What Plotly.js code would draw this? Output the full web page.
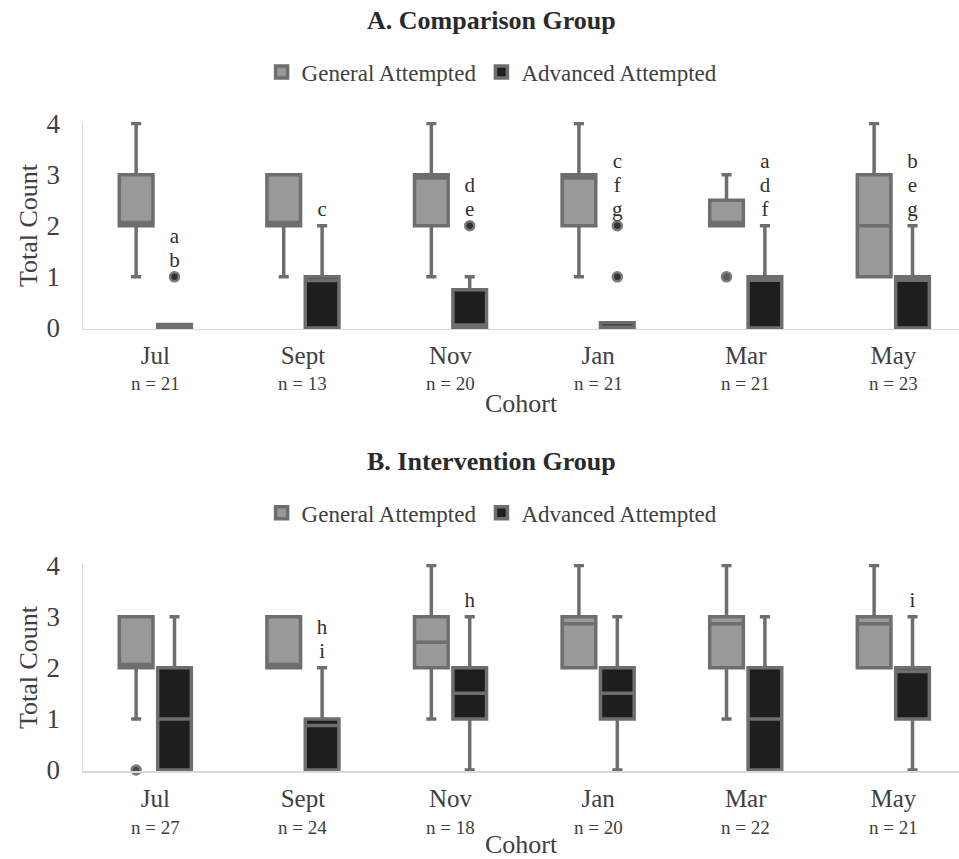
<!DOCTYPE html>
<html>
<head>
<meta charset="utf-8">
<script src="https://cdn.plot.ly/plotly-3.0.1.min.js"></script>
<style>html,body{margin:0;padding:0;background:#fff;}#chart{width:959px;height:859px;}</style>
</head>
<body>
<div id="chart"></div>
<script>
// ---------- DATA ----------
const cohorts = ['Jul', 'Sept', 'Nov', 'Jan', 'Mar', 'May'];
const seriesNames = ['General Attempted', 'Advanced Attempted'];
const yTicks = [0, 1, 2, 3, 4];

// A. Comparison Group
const compN = [21, 13, 20, 21, 21, 23];
const compGenLo  = [1, 1, 1, 1, 2, 1];
const compGenQ1  = [2, 2, 2, 2, 2, 1];
const compGenMed = [2.065, 2.065, 2.935, 2.935, 2.065, 2];
const compGenQ3  = [3, 3, 3, 3, 2.5, 3];
const compGenHi  = [4, 3, 4, 4, 3, 4];
const compAdvLo  = [0, 0, 0, 0, 0, 0];
const compAdvQ1  = [0, 0, 0, 0, 0, 0];
const compAdvMed = [0, 0.93, 0.06, 0, 0.935, 0.935];
const compAdvQ3  = [0.07, 1, 0.75, 0.1, 1, 1];
const compAdvHi  = [0.07, 2, 1, 0.1, 2, 2];
const compGenOut = [[], [], [], [], [1], []];
const compAdvOut = [[1], [], [2], [2, 1], [], []];
const compLetters = [['a', 'b'], ['c'], ['d', 'e'], ['c', 'f', 'g'], ['a', 'd', 'f'], ['b', 'e', 'g']];

// B. Intervention Group
const intN = [27, 24, 18, 20, 22, 21];
const intGenLo  = [1, 2, 1, 2, 1, 2];
const intGenQ1  = [2, 2, 2, 2, 2, 2];
const intGenMed = [2.065, 2.065, 2.5, 2.86, 2.86, 2.86];
const intGenQ3  = [3, 3, 3, 3, 3, 3];
const intGenHi  = [3, 3, 4, 4, 4, 4];
const intAdvLo  = [0, 0, 0, 0, 0, 0];
const intAdvQ1  = [0, 0, 1, 1, 0, 1];
const intAdvMed = [1, 0.87, 1.5, 1.5, 1, 1.925];
const intAdvQ3  = [2, 1, 2, 2, 2, 2];
const intAdvHi  = [3, 2, 3, 3, 3, 3];
const intGenOut = [[0], [], [], [], [], []];
const intAdvOut = [[], [], [], [], [], []];
const intLetters = [[], ['h', 'i'], ['h'], [], [], ['i']];

// ---------- STYLE ----------
const FONT = 'Liberation Serif, Times New Roman, serif';
const TXT = '#404040';
const EDGE = '#6e6e6e';
const GEN_FILL = '#999999';
const ADV_FILL = '#1e1e1e';
const OFF = 0.13;
const BW = 0.228;
const idx = cohorts.map((c, i) => i);

function boxTrace(name, fill, shift, lo, q1, med, q3, hi, xa, ya, leg) {
  return {
    type: 'box', name: name,
    x: idx.map(i => i + shift),
    lowerfence: lo, q1: q1, median: med, q3: q3, upperfence: hi,
    width: BW, whiskerwidth: 0.3,
    fillcolor: fill, line: {color: EDGE, width: 3.5},
    xaxis: xa, yaxis: ya, legend: leg, hoverinfo: 'skip'
  };
}
function outTrace(outs, shift, xa, ya, col) {
  const x = [], y = [];
  outs.forEach((arr, i) => arr.forEach(v => { x.push(i + shift); y.push(v); }));
  return {type: 'scatter', mode: 'markers', x: x, y: y, xaxis: xa, yaxis: ya,
    showlegend: false, cliponaxis: false, hoverinfo: 'skip',
    marker: {size: 9, color: col, line: {color: '#7a7a7a', width: 2.5}}};
}
function letterTrace(letters, hi, outs, xa, ya) {
  const x = [], y = [], t = [];
  letters.forEach((arr, i) => {
    const top = Math.max(hi[i], ...(outs[i].length ? outs[i] : [hi[i]]));
    const k = arr.length;
    arr.forEach((L, j) => { x.push(i + OFF); y.push(top + 0.3 + (k - 1 - j) * 0.47); t.push(L); });
  });
  return {type: 'scatter', mode: 'text', x: x, y: y, text: t, xaxis: xa, yaxis: ya,
    showlegend: false, cliponaxis: false, hoverinfo: 'skip',
    textfont: {family: FONT, size: 21, color: '#303030'}};
}

const data = [
  boxTrace(seriesNames[0], GEN_FILL, -OFF, compGenLo, compGenQ1, compGenMed, compGenQ3, compGenHi, 'x', 'y', 'legend'),
  boxTrace(seriesNames[1], ADV_FILL, OFF, compAdvLo, compAdvQ1, compAdvMed, compAdvQ3, compAdvHi, 'x', 'y', 'legend'),
  outTrace(compGenOut, -OFF, 'x', 'y', '#5a5a5a'),
  outTrace(compAdvOut, OFF, 'x', 'y', '#333333'),
  letterTrace(compLetters, compAdvHi, compAdvOut, 'x', 'y'),
  boxTrace(seriesNames[0], GEN_FILL, -OFF, intGenLo, intGenQ1, intGenMed, intGenQ3, intGenHi, 'x2', 'y2', 'legend2'),
  boxTrace(seriesNames[1], ADV_FILL, OFF, intAdvLo, intAdvQ1, intAdvMed, intAdvQ3, intAdvHi, 'x2', 'y2', 'legend2'),
  outTrace(intGenOut, -OFF, 'x2', 'y2', '#4a4a4a'),
  outTrace(intAdvOut, OFF, 'x2', 'y2', '#333333'),
  letterTrace(intLetters, intAdvHi, intAdvOut, 'x2', 'y2')
];

function xAxis(anchor) {
  return {
    anchor: anchor, domain: [0, 1], range: [-0.49, 5.445],
    tickmode: 'array', tickvals: idx, ticktext: cohorts,
    tickfont: {family: FONT, size: 25, color: TXT}, ticks: '', ticklabelstandoff: 4,
    showline: true, linecolor: '#d9d9d9', linewidth: 1.5, showgrid: false, zeroline: false,
    title: {text: 'Cohort', font: {family: FONT, size: 26, color: TXT}, standoff: 25}
  };
}
function yAxis(anchor, dom) {
  return {
    anchor: anchor, domain: dom, range: [-0.02, 4.03],
    tickmode: 'array', tickvals: yTicks, ticktext: yTicks.map(String),
    tickfont: {family: FONT, size: 27, color: TXT}, ticks: '', ticklabelstandoff: 16,
    showline: true, linecolor: '#d9d9d9', linewidth: 1.5, showgrid: false, zeroline: false,
    title: {text: 'Total Count', font: {family: FONT, size: 26, color: TXT}, standoff: 1}
  };
}

const annotations = [
  {text: '<b>A. Comparison Group</b>', xref: 'paper', yref: 'paper', x: 0.466, y: 0.9767,
   xanchor: 'center', yanchor: 'middle', showarrow: false, font: {family: FONT, size: 26, color: '#2a2a2a'}},
  {text: '<b>B. Intervention Group</b>', xref: 'paper', yref: 'paper', x: 0.466, y: 0.4622,
   xanchor: 'center', yanchor: 'middle', showarrow: false, font: {family: FONT, size: 26, color: '#2a2a2a'}}
];
compN.forEach((n, i) => annotations.push({text: 'n = ' + n, xref: 'x', yref: 'paper', x: i, y: 0.5541,
  xanchor: 'center', yanchor: 'middle', showarrow: false, font: {family: FONT, size: 19, color: TXT}}));
intN.forEach((n, i) => annotations.push({text: 'n = ' + n, xref: 'x2', yref: 'paper', x: i, y: 0.0372,
  xanchor: 'center', yanchor: 'middle', showarrow: false, font: {family: FONT, size: 19, color: TXT}}));

const legendStyle = (y) => ({
  orientation: 'h', x: 0.467, xanchor: 'center', y: y, yanchor: 'middle',
  font: {family: FONT, size: 23, color: TXT}, bgcolor: 'rgba(0,0,0,0)', traceorder: 'normal'
});

const layout = {
  width: 959, height: 859,
  margin: {l: 83, r: 0, t: 0, b: 0},
  paper_bgcolor: '#ffffff', plot_bgcolor: '#ffffff',
  boxmode: 'overlay',
  xaxis: xAxis('y'), yaxis: yAxis('x', [0.6170, 0.8580]),
  xaxis2: xAxis('y2'), yaxis2: yAxis('x2', [0.1024, 0.3434]),
  legend: legendStyle(0.916),
  legend2: legendStyle(0.403),
  annotations: annotations,
  showlegend: true
};

Plotly.newPlot('chart', data, layout, {displayModeBar: false, staticPlot: true});
</script>
</body>
</html>
